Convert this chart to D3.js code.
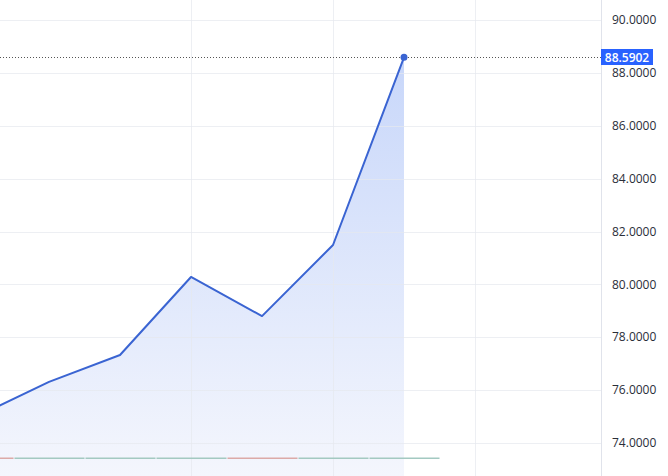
<!DOCTYPE html>
<html><head><meta charset="utf-8">
<script src="https://cdn.jsdelivr.net/npm/d3@7"></script>
<style>html,body{margin:0;padding:0;background:#fff;overflow:hidden}</style>
</head><body>
<svg id="c" width="668" height="476"></svg>
<script>
const categories = ["P0","P1","P2","P3","P4","P5","P6"];
const values = [75.02, 76.31, 77.33, 80.28, 78.80, 81.49, 88.5902];
const volumes = [1, 1, 1, 1, 1, 1, 1];
const volumeDir = ["down","up","up","up","down","up","up"];
const yTicks = [74, 76, 78, 80, 82, 84, 86, 88, 90];
const timeGrid = [3, 5, 7];
const lastLabel = "88.5902";

const W = 668, H = 476, plotRight = 601;
const svg = d3.select("#c");
const x = d3.scaleLinear().domain([0, 6]).range([-22, 404]);
const y = d3.scaleLinear().domain([74, 90]).range([443, 20]);
const vy = d3.scaleLinear().domain([0, 1]).range([459, 457.5]);

const defs = svg.append("defs");
const g = defs.append("linearGradient").attr("id","ag").attr("gradientUnits","userSpaceOnUse")
  .attr("x1",0).attr("x2",0).attr("y1",y(88.59)).attr("y2",H);
g.append("stop").attr("offset","0").attr("stop-color","#c8d7fa");
g.append("stop").attr("offset","1").attr("stop-color","#f4f6fd");

// area
const pts = values.map((v,i)=>[i,v]);
svg.append("path").datum(pts)
  .attr("d", d3.area().x(d=>x(d[0])).y0(H).y1(d=>y(d[1])))
  .attr("fill","url(#ag)");

// grid
svg.append("g").selectAll("line").data(yTicks).join("line")
  .attr("x1",0).attr("x2",plotRight).attr("y1",d=>Math.round(y(d))+0.5).attr("y2",d=>Math.round(y(d))+0.5)
  .attr("stroke","#e6e8ee").attr("stroke-opacity",0.7).attr("stroke-width",1);
svg.append("g").selectAll("line").data(timeGrid).join("line")
  .attr("x1",d=>Math.round(x(d))+0.5).attr("x2",d=>Math.round(x(d))+0.5).attr("y1",0).attr("y2",H)
  .attr("stroke","#e6e8ee").attr("stroke-opacity",0.7).attr("stroke-width",1);

// volume bars
const bw = 70;
svg.append("g").selectAll("rect").data(volumes).join("rect")
  .attr("x",(d,i)=>x(i)-bw/2+0.5).attr("width",bw)
  .attr("y",d=>vy(d)).attr("height",d=>vy(0)-vy(d))
  .attr("fill",(d,i)=>volumeDir[i]==="up" ? "#a3c9c1" : "#dcaaa8");

// line
svg.append("path").datum(pts)
  .attr("d", d3.line().x(d=>x(d[0])).y(d=>y(d[1])))
  .attr("fill","none").attr("stroke","#3a64d2").attr("stroke-width",2).attr("stroke-linejoin","round");

// last price dotted line
const ly = Math.round(y(values[6]))+0.5;
svg.append("line").attr("x1",0).attr("x2",plotRight).attr("y1",ly).attr("y2",ly)
  .attr("stroke","#555").attr("stroke-width",1).attr("stroke-dasharray","1,2");
svg.append("circle").attr("cx",x(6)).attr("cy",y(values[6])).attr("r",3.5).attr("fill","#3a64d2");

// axis border
svg.append("line").attr("x1",plotRight+0.5).attr("x2",plotRight+0.5).attr("y1",0).attr("y2",H)
  .attr("stroke","#e0e3eb");

// y axis labels
svg.append("g").selectAll("text").data(yTicks).join("text")
  .attr("x",612).attr("y",d=>y(d)).attr("dy","0.35em")
  .attr("font-family","'Open Sans', Roboto, sans-serif").attr("font-size",12).attr("fill","#2a2e39")
  .text(d=>d.toFixed(4));

// last price label
svg.append("rect").attr("x",plotRight).attr("y",ly-8.5).attr("width",52).attr("height",16)
  .attr("fill","#2962ff");
svg.append("text").attr("x",plotRight+26).attr("y",ly).attr("dy","0.35em").attr("text-anchor","middle")
  .attr("font-family","'Open Sans', Roboto, sans-serif").attr("font-size",12).attr("font-weight","600").attr("fill","#fff")
  .text(lastLabel);
</script>
</body></html>
